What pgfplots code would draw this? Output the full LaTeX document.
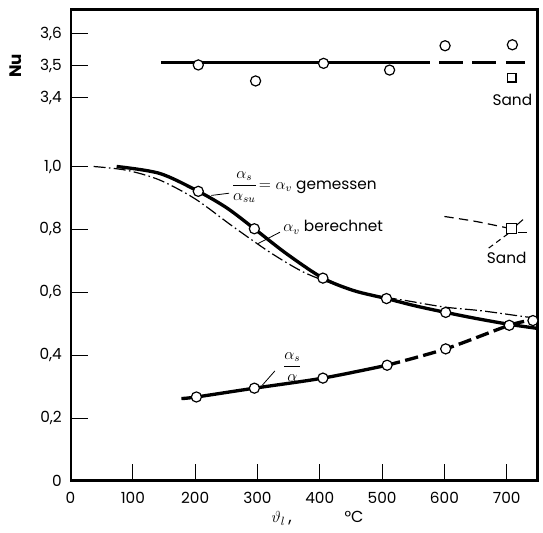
\documentclass[border=0pt]{standalone}
\usepackage{pgfplots}
\pgfplotsset{compat=1.18}
\usepackage{fontspec}
\setmainfont{Poppins}
\begin{document}
\begin{tikzpicture}
\pgfplotsset{
  base/.style={width=350.6pt,height=353.8pt,scale only axis,xmin=0,xmax=750,
    at={(0pt,0pt)}, anchor=south west,
    clip mode=individual,
    tick align=inside, major tick length=12.75pt,
    every tick/.append style={line width=0.8pt,black},
    /pgf/number format/assume math mode=true,
    ticklabel style={font=\fontsize{11.5}{13}\selectfont},
  },
  circ/.style={only marks, mark=*, mark size=3.8pt, mark options={fill=white,draw=black,line width=0.9pt}},
  tk/.style={line width=0.8pt, black, forget plot},
}
\newcommand{\ann}{\fontsize{11.5}{13}\selectfont}
% lower panel
\begin{axis}[base, ymin=0, ymax=1.5,
  axis line style={line width=1.5pt},
  xtick pos=left, ytick pos=left,
  xtick={0,100,...,700}, xticklabels={0,100,200,300,400,500,600,700},
  ytick={0,0.2,0.4,0.6,0.8,1.0},
  yticklabels={0,{0,2},{0,4},{0,6},{0,8},{1,0}},
  yticklabel style={xshift=-3pt},
  xticklabel style={yshift=-5pt},
  ]
  % frame and inward ticks drawn as plots
  \addplot[line width=2.4pt, black, forget plot] coordinates {(0,0)(0,1.5)(750,1.5)(750,0)(0,0)};
  \addplot[tk] coordinates {(100,0)(100,0.0405)};
  \addplot[tk] coordinates {(200,0)(200,0.0405)};
  \addplot[tk] coordinates {(300,0)(300,0.0405)};
  \addplot[tk] coordinates {(400,0)(400,0.0405)};
  \addplot[tk] coordinates {(500,0)(500,0.0405)};
  \addplot[tk] coordinates {(600,0)(600,0.0405)};
  \addplot[tk] coordinates {(700,0)(700,0.0405)};
  \addplot[tk] coordinates {(0,0.2)(27.3,0.2)};
  \addplot[tk] coordinates {(0,0.4)(27.3,0.4)};
  \addplot[tk] coordinates {(0,0.6)(27.3,0.6)};
  \addplot[tk] coordinates {(0,0.8)(27.3,0.8)};
  \addplot[tk] coordinates {(0,1.0)(27.3,1.0)};
  % alpha_s/alpha_su = alpha_v gemessen
  \addplot[line width=2.5pt, smooth, tension=0.5] coordinates {
    (74,1.0)(143,0.978)(205,0.921)(251,0.868)(295,0.802)(347,0.722)
    (405,0.645)(455,0.605)(507,0.580)(555,0.556)(602,0.536)(650,0.517)(704,0.498)(750,0.485)};
  % alpha_v berechnet
  \addplot[line width=0.9pt, smooth, tension=0.5,
    dash pattern=on 9pt off 2.5pt on 1.2pt off 2.5pt] coordinates {
    (37,1.0)(90,0.988)(143,0.957)(200,0.897)(260,0.81)(320,0.727)(370,0.668)
    (410,0.635)(470,0.597)(540,0.573)(600,0.553)(660,0.541)(730,0.522)(750,0.518)};
  \addplot[circ] coordinates {(205,0.921)(295,0.802)(405,0.645)(507,0.580)(602,0.536)};
  % alpha_s/alpha
  \addplot[line width=2.5pt, smooth, tension=0.5] coordinates {
    (178,0.262)(202,0.267)(295,0.295)(405,0.327)(508,0.368)};
  \addplot[line width=2.5pt, smooth, tension=0.5, dash pattern=on 10pt off 4pt] coordinates {
    (508,0.368)(602,0.42)(704,0.495)(742,0.512)};
  \addplot[circ] coordinates {(202,0.267)(295,0.295)(405,0.327)(508,0.368)(602,0.42)(704,0.495)(742,0.51)};
  % Sand
  \addplot[line width=0.9pt, smooth, dash pattern=on 7pt off 4pt] coordinates {
    (600,0.841)(651,0.825)(700,0.805)};
  \addplot[only marks, mark=square*, mark size=3.75pt, mark options={fill=white,draw=black,line width=0.9pt}]
    coordinates {(708,0.802)};
  \draw[line width=0.8pt] (axis cs:715.5,0.813) -- (axis cs:726,0.831);
  \draw[line width=0.8pt] (axis cs:718,0.790) -- (axis cs:732.5,0.790);
  \draw[line width=0.8pt, dash pattern=on 4pt off 3pt] (axis cs:702,0.786) -- (axis cs:670,0.739);
  \node[font=\ann] at (axis cs:700,0.708) {Sand};
  % labels
  \node[font=\ann, anchor=west, inner sep=0pt] at (axis cs:258,0.934)
    {$\displaystyle\frac{\alpha_s}{\alpha_{su}}\!=\alpha_v$ gemessen};
  \draw[line width=0.6pt] (axis cs:254.6,0.915) -- (axis cs:226,0.908);
  \node[font=\ann, anchor=west, inner sep=0pt] at (axis cs:341,0.807) {$\alpha_v$ berechnet};
  \draw[line width=0.6pt] (axis cs:336,0.791) -- (axis cs:301,0.755);
  \node[font=\ann, inner sep=0pt] at (axis cs:356,0.363) {$\displaystyle\frac{\alpha_s}{\alpha}$};
  \draw[line width=0.6pt] (axis cs:328,0.350) -- (axis cs:308,0.305);
  % x label
  \node[font=\fontsize{13}{15}\selectfont, anchor=base] at ([yshift=-31pt]axis cs:339,0) {$\vartheta_{l}$\,,};
  \node[font=\fontsize{12}{14}\selectfont, anchor=base] at ([yshift=-31pt]axis cs:455,0) {°C};
\end{axis}
% upper panel (Nu)
\begin{axis}[base, ymin=2.2022, ymax=3.676,
  axis line style={draw=none},
  xtick=\empty,
  ytick={3.4,3.5,3.6}, yticklabels={{3,4},{3,5},{3,6}},
  ytick pos=left,
  yticklabel style={xshift=-3pt},
  ]
  \addplot[line width=2.3pt] coordinates {(145,3.5105)(538,3.5105)};
  \addplot[line width=2.3pt, dash pattern=on 18pt off 7pt] coordinates {(538,3.5105)(730,3.5105)};
  \addplot[circ] coordinates {(205,3.502)(297,3.452)(406,3.507)(512,3.486)(601,3.562)(709,3.565)};
  \addplot[only marks, mark=square*, mark size=3.2pt, mark options={fill=white,draw=black,line width=0.9pt}]
    coordinates {(708,3.462)};
  \node[font=\ann] at (axis cs:709,3.394) {Sand};
  \node[font=\fontsize{12.5}{14}\selectfont\bfseries, rotate=90] at ([xshift=-41pt]rel axis cs:0,0.88) {Nu};
\end{axis}
\pgfresetboundingbox
\path[use as bounding box] (-52.9pt,-39pt) rectangle (354.4pt,360.75pt);
\end{tikzpicture}
\end{document}
